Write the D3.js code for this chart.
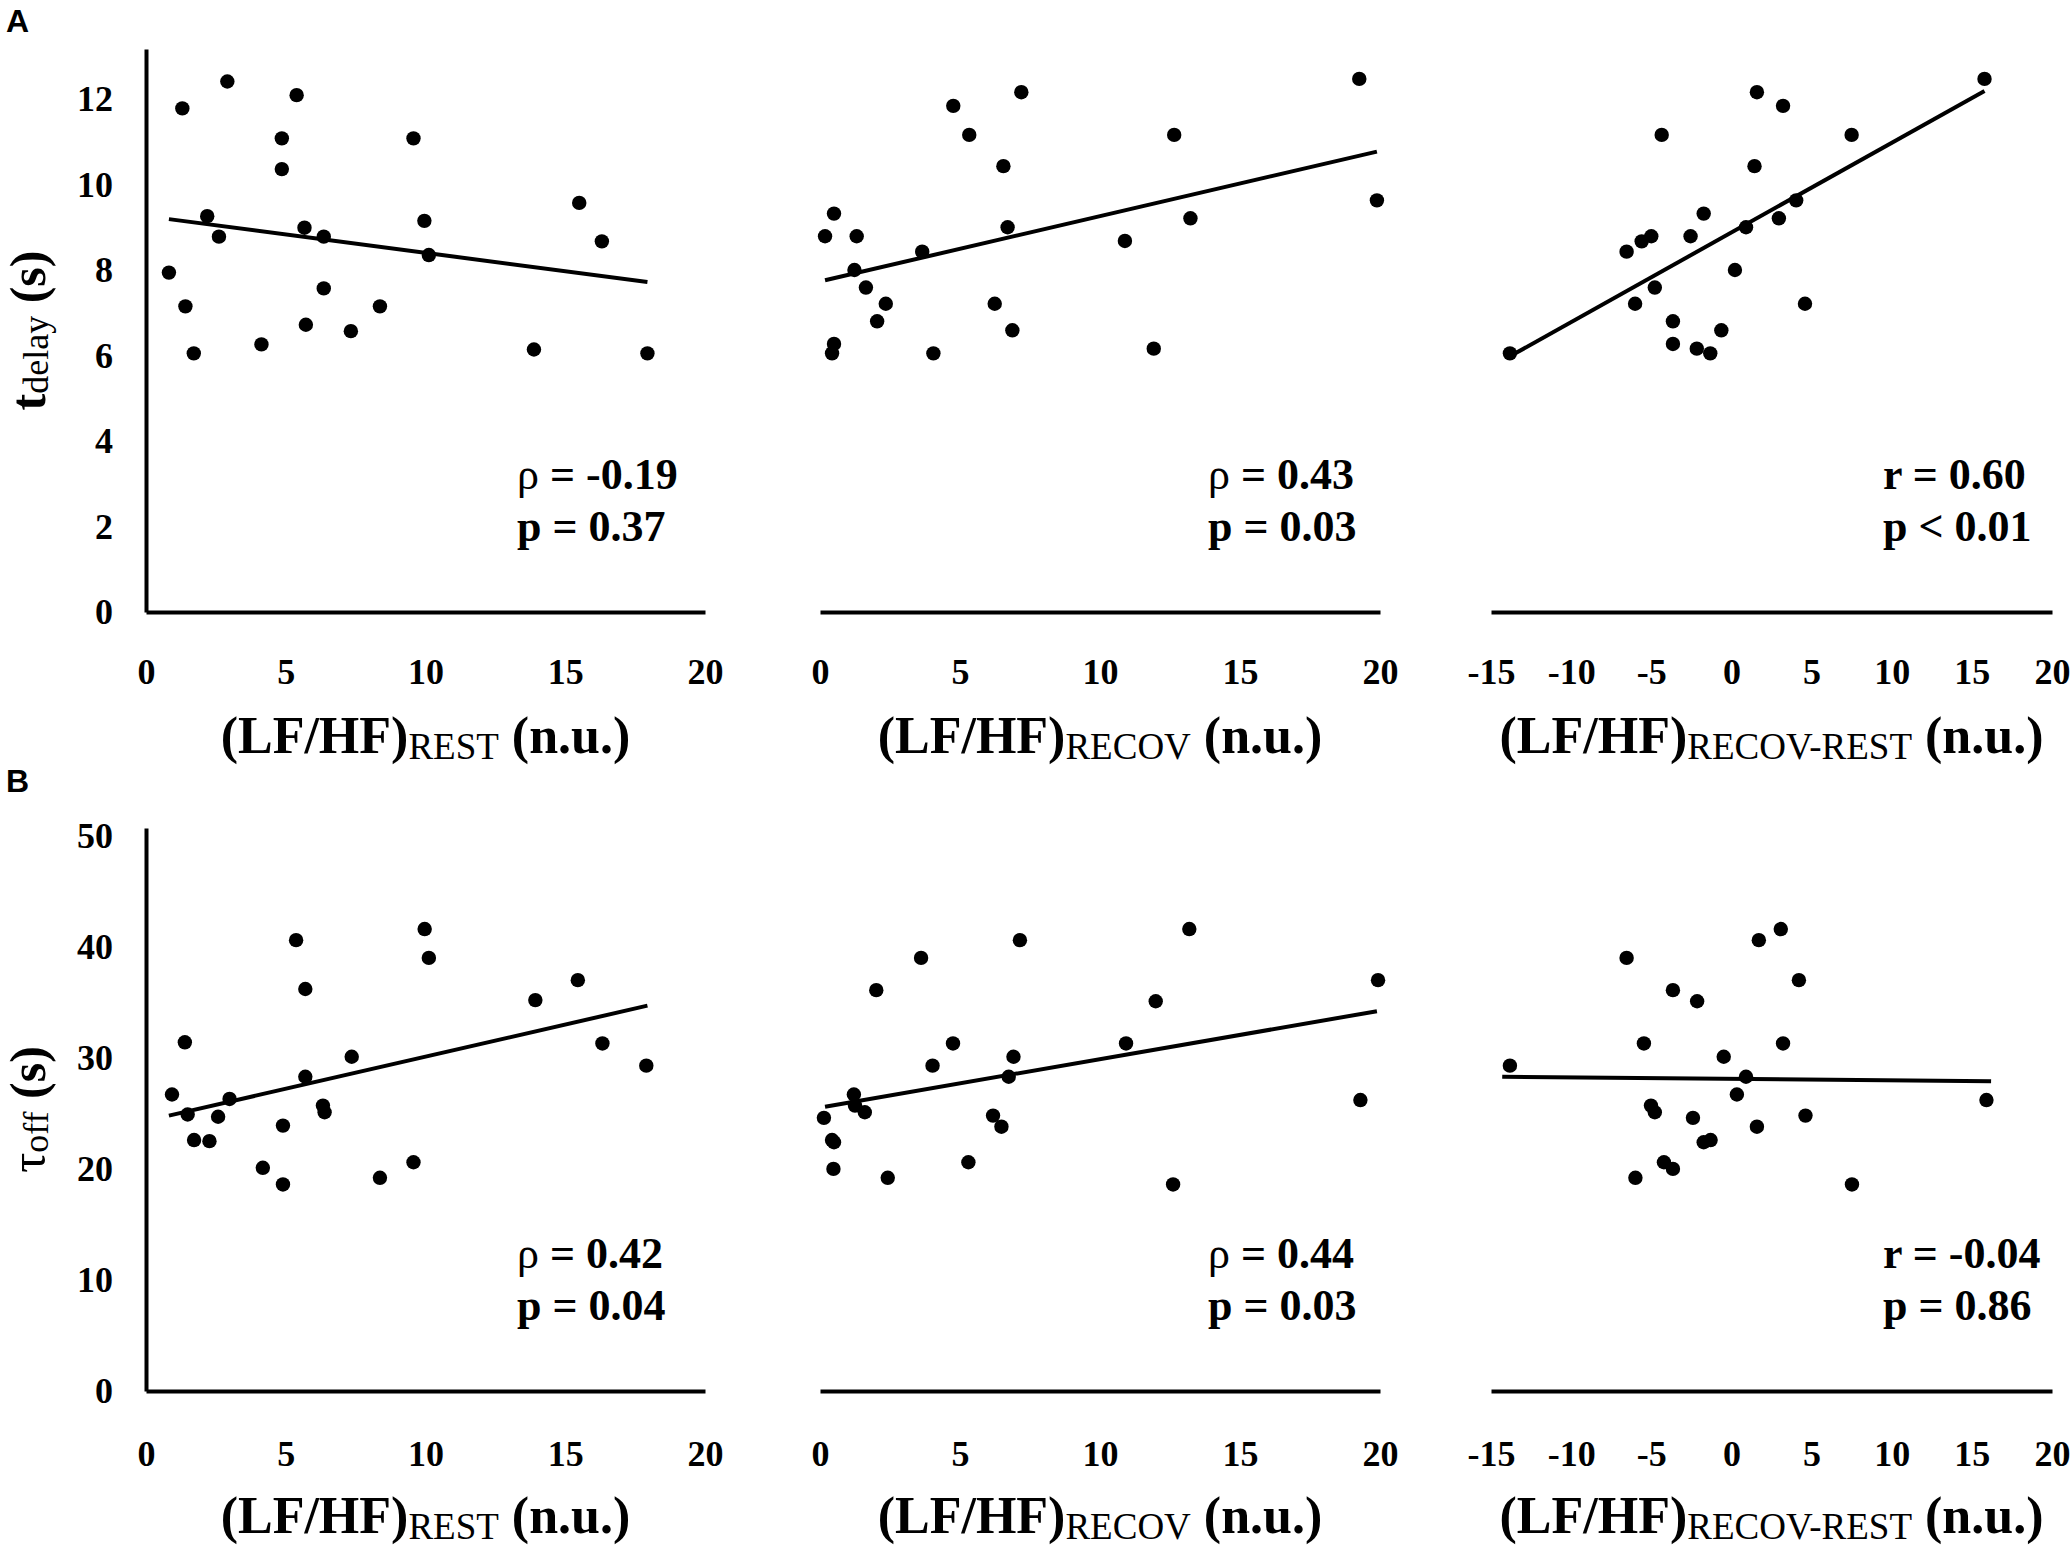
<!DOCTYPE html>
<html lang="en">

<head>
	<meta charset="utf-8">
	<title>LF/HF versus t_delay and tau_off</title>
	<script type="text/javascript" src="https://cdn.jsdelivr.net/npm/d3@7"></script>
	<style type="text/css">
		body { margin: 0; background: #fff; }
		svg text { font-family: "Liberation Serif", "Times New Roman", serif; fill: #000; white-space: pre; }
	</style>
</head>

<body>
	<script type="text/javascript">
		// ---- data ----

		// A, left: (LF/HF) rest vs t_delay
		var restA = [0.82, 1.30, 1.41, 1.71, 2.19, 2.61, 2.91, 4.13, 4.86, 4.86, 5.39, 5.67,
			5.72, 6.36, 6.36, 7.33, 8.37, 9.57, 9.96, 10.12, 13.88, 15.50, 16.31, 17.94];
		var delayRest = [7.94, 11.78, 7.15, 6.05, 9.26, 8.78, 12.41, 6.26, 11.08, 10.36, 12.09, 8.99,
			6.72, 8.78, 7.57, 6.57, 7.15, 11.08, 9.15, 8.35, 6.14, 9.57, 8.67, 6.05];

		// A, middle: (LF/HF) recov vs t_delay
		var recovA = [0.18, 0.50, 0.50, 0.43, 1.31, 1.23, 1.64, 2.35, 2.04, 3.65, 4.05, 4.76,
			5.33, 6.24, 6.55, 6.70, 6.87, 7.19, 10.89, 11.92, 12.65, 13.23, 19.26, 19.89];
		var delayRecov = [8.79, 9.32, 6.27, 6.05, 8.79, 8.00, 7.59, 7.21, 6.80, 8.43, 6.05, 11.84,
			11.16, 7.21, 10.43, 9.00, 6.59, 12.16, 8.68, 6.16, 11.16, 9.21, 12.47, 9.63];

		// A, right: (LF/HF) recov-rest vs t_delay
		var diffA = [-13.82, -6.54, -5.60, -5.00, -6.01, -4.78, -4.35, -3.65, -3.65, -2.55, -2.16, -1.73,
			-1.32, -0.63, 0.22, 0.91, 1.44, 1.59, 2.96, 3.22, 4.04, 4.59, 7.50, 15.79];
		var delayDiff = [6.05, 8.43, 8.67, 8.79, 7.21, 7.59, 11.16, 6.80, 6.27, 8.79, 6.16, 9.32,
			6.05, 6.59, 8.00, 9.00, 10.43, 12.16, 9.21, 11.84, 9.63, 7.21, 11.16, 12.47];

		// B, left: (LF/HF) rest vs tau_off
		var restB = [0.93, 1.39, 1.49, 1.72, 2.27, 2.58, 2.99, 4.18, 4.90, 4.90, 5.37, 5.70,
			5.70, 6.33, 6.39, 7.36, 8.37, 9.57, 9.97, 10.12, 13.93, 15.45, 16.33, 17.90];
		var tauRest = [26.7, 31.4, 24.9, 22.6, 22.5, 24.7, 26.3, 20.1, 23.9, 18.6, 40.6, 36.2,
			28.3, 25.7, 25.1, 30.1, 19.2, 20.6, 41.6, 39.0, 35.2, 37.0, 31.3, 29.3];

		// B, middle: (LF/HF) recov vs tau_off
		var recovB = [0.14, 0.43, 0.50, 0.48, 1.21, 1.25, 1.60, 2.01, 2.42, 3.61, 4.02, 4.75,
			5.30, 6.18, 6.48, 6.74, 6.91, 7.14, 10.93, 11.99, 12.61, 13.19, 19.30, 19.93];
		var tauRecov = [24.6, 22.6, 22.4, 20.0, 26.7, 25.7, 25.1, 36.1, 19.2, 39.0, 29.3, 31.3,
			20.6, 24.8, 23.8, 28.3, 30.1, 40.6, 31.3, 35.1, 18.6, 41.6, 26.2, 37.0];

		// B, right: (LF/HF) recov-rest vs tau_off
		var diffB = [-13.82, -6.54, -5.99, -5.46, -5.02, -4.78, -4.21, -3.65, -3.65, -2.40, -2.14, -1.73,
			-1.30, -0.48, 0.34, 0.91, 1.59, 1.71, 3.08, 3.22, 4.21, 4.62, 7.52, 15.91];
		var tauDiff = [29.3, 39.0, 19.2, 31.3, 25.7, 25.1, 20.6, 36.1, 20.0, 24.6, 35.1, 22.4,
			22.6, 30.1, 26.7, 28.3, 23.8, 40.6, 41.6, 31.3, 37.0, 24.8, 18.6, 26.2];

		// trend line end points [x0, y0, x1, y1]
		var trendA = [[0.82, 9.19, 17.94, 7.72], [0.18, 7.76, 19.89, 10.77], [-13.82, 5.98, 15.79, 12.19]];
		var trendB = [[0.82, 24.8, 17.94, 34.7], [0.18, 25.6, 19.89, 34.2], [-14.3, 28.3, 16.2, 27.9]];

		// statistics
		var statSymbol = ["ρ", "ρ", "r", "ρ", "ρ", "r"];
		var statValue = ["-0.19", "0.43", "0.60", "0.42", "0.44", "-0.04"];
		var pText = ["p = 0.37", "p = 0.03", "p < 0.01", "p = 0.04", "p = 0.03", "p = 0.86"];

		// tick labels
		var xTicksLevel = [0, 5, 10, 15, 20];
		var xTicksDiff = [-15, -10, -5, 0, 5, 10, 15, 20];
		var yTicksA = [0, 2, 4, 6, 8, 10, 12];
		var yTicksB = [0, 10, 20, 30, 40, 50];
		var subLabels = ["REST", "RECOV", "RECOV-REST"];

		// ---- layout ----
		var w = 2072;
		var h = 1552;

		var rows = [
			{ letter: "A", letterY: 32, top: 49, bottom: 612, yMax: 13.17, yTicks: yTicksA, pad: 46, titleY: 753,
				ySym: "t", ySymBold: true, ySub: "delay", yTitleX: 45 },
			{ letter: "B", letterY: 792, top: 828, bottom: 1391, yMax: 50.7, yTicks: yTicksB, pad: 49, titleY: 1533,
				ySym: "τ", ySymBold: false, ySub: "off", yTitleX: 45 }
		];
		var cols = [
			{ left: 146, right: 705, domain: [0, 20], ticks: xTicksLevel, statDx: 371 },
			{ left: 820, right: 1380, domain: [0, 20], ticks: xTicksLevel, statDx: 388 },
			{ left: 1491, right: 2052, domain: [-15, 20], ticks: xTicksDiff, statDx: 392 }
		];
		var xData = [[restA, recovA, diffA], [restB, recovB, diffB]];
		var yData = [[delayRest, delayRecov, delayDiff], [tauRest, tauRecov, tauDiff]];
		var trends = [trendA, trendB];

		// plain hyphen for negatives, like the original labels
		var plainFormat = function (d) { return String(d); };

		//Create SVG element
		var svg = d3.select("body")
			.append("svg")
			.attr("width", w)
			.attr("height", h);

		rows.forEach(function (row, r) {
			// panel letter
			svg.append("text")
				.attr("x", 6)
				.attr("y", row.letterY)
				.style("font-family", "'Liberation Sans', Arial, sans-serif")
				.style("font-weight", "bold")
				.style("font-size", "32px")
				.text(row.letter);

			var yScale = d3.scaleLinear()
				.domain([0, row.yMax])
				.range([row.bottom, row.top]);

			// y title, rotated
			var yt = svg.append("text")
				.attr("transform", "translate(" + row.yTitleX + "," + ((row.top + row.bottom) / 2) + ") rotate(-90)")
				.attr("text-anchor", "middle");
			yt.append("tspan")
				.style("font-size", "50px")
				.style("font-weight", row.ySymBold ? "bold" : "normal")
				.text(row.ySym);
			yt.append("tspan")
				.style("font-size", "36px")
				.attr("dy", 3)
				.text(row.ySub);
			yt.append("tspan")
				.style("font-size", "50px")
				.style("font-weight", "bold")
				.attr("dy", -3)
				.text(" (s)");

			cols.forEach(function (col, c) {
				var i = r * 3 + c;
				var xs = xData[r][c];
				var ys = yData[r][c];
				var points = xs.map(function (d, k) { return [d, ys[k]]; });

				var xScale = d3.scaleLinear()
					.domain(col.domain)
					.range([col.left, col.right]);

				var g = svg.append("g");

				// x axis: line and labels, no ticks
				var xAxis = g.append("g")
					.attr("transform", "translate(0," + row.bottom + ")")
					.call(d3.axisBottom(xScale)
						.tickValues(col.ticks)
						.tickSize(0)
						.tickSizeOuter(0)
						.tickPadding(row.pad)
						.tickFormat(plainFormat));
				xAxis.select(".domain")
					.attr("stroke", "#000")
					.attr("stroke-width", 4);
				xAxis.selectAll("text")
					.style("font-family", "'Liberation Serif', 'Times New Roman', serif")
					.style("font-size", "36px")
					.style("font-weight", "bold");

				// y axis only on the first panel of a row
				if (c === 0) {
					var yAxis = g.append("g")
						.attr("transform", "translate(" + col.left + ",0)")
						.call(d3.axisLeft(yScale)
							.tickValues(row.yTicks)
							.tickSize(0)
							.tickSizeOuter(0)
							.tickPadding(33)
							.tickFormat(plainFormat));
					yAxis.select(".domain")
						.attr("stroke", "#000")
						.attr("stroke-width", 4);
					yAxis.selectAll("text")
						.style("font-family", "'Liberation Serif', 'Times New Roman', serif")
						.style("font-size", "36px")
						.style("font-weight", "bold");
				}

				// trend line
				var t = trends[r][c];
				g.append("path")
					.datum([[t[0], t[1]], [t[2], t[3]]])
					.attr("fill", "none")
					.attr("stroke", "#000")
					.attr("stroke-width", 4)
					.attr("d", d3.line()
						.x(function (d) { return xScale(d[0]); })
						.y(function (d) { return yScale(d[1]); }));

				// points
				g.selectAll("circle")
					.data(points)
					.enter()
					.append("circle")
					.attr("cx", function (d) { return xScale(d[0]); })
					.attr("cy", function (d) { return yScale(d[1]); })
					.attr("r", 7.2)
					.attr("fill", "#000");

				// statistics text
				var sx = col.left + col.statDx;
				var s1 = g.append("text")
					.attr("x", sx)
					.attr("y", row.bottom - 123)
					.style("font-size", "44px");
				s1.append("tspan")
					.style("font-weight", statSymbol[i] === "ρ" ? "normal" : "bold")
					.text(statSymbol[i]);
				s1.append("tspan")
					.style("font-weight", "bold")
					.text(" = " + statValue[i]);
				g.append("text")
					.attr("x", sx)
					.attr("y", row.bottom - 71)
					.style("font-size", "44px")
					.style("font-weight", "bold")
					.text(pText[i]);

				// x title
				var xt = g.append("text")
					.attr("x", (col.left + col.right) / 2)
					.attr("y", row.titleY)
					.attr("text-anchor", "middle");
				xt.append("tspan")
					.style("font-size", "52px")
					.style("font-weight", "bold")
					.text("(LF/HF)");
				xt.append("tspan")
					.style("font-size", "37px")
					.attr("dy", 6)
					.text(subLabels[c]);
				xt.append("tspan")
					.style("font-size", "52px")
					.style("font-weight", "bold")
					.attr("dy", -6)
					.text(" (n.u.)");
			});
		});
	</script>
</body>

</html>
